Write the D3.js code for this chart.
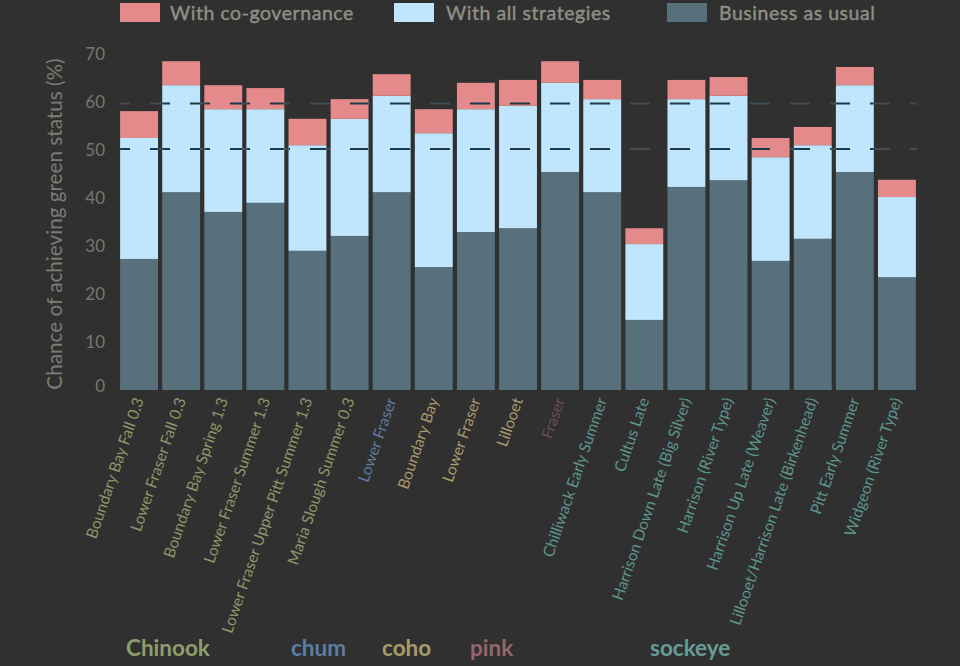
<!DOCTYPE html>
<html>
<head>
<meta charset="utf-8">
<script src="https://cdn.jsdelivr.net/npm/d3@7"></script>
<style>
  html, body { margin: 0; padding: 0; background: #303030; }
  svg { display: block; font-family: Lato, sans-serif; }
</style>
</head>
<body>
<svg id="chart" width="960" height="666"></svg>
<script>
const stocks = ['Boundary Bay Fall 0.3', 'Lower Fraser Fall 0.3', 'Boundary Bay Spring 1.3', 'Lower Fraser Summer 1.3',
  'Lower Fraser Upper Pitt Summer 1.3', 'Maria Slough Summer 0.3', 'Lower Fraser', 'Boundary Bay', 'Lower Fraser',
  'Lillooet', 'Fraser', 'Chilliwack Early Summer', 'Cultus Late', 'Harrison Down Late (Big Silver)', 'Harrison (River Type)',
  'Harrison Up Late (Weaver)', 'Lillooet/Harrison Late (Birkenhead)', 'Pitt Early Summer', 'Widgeon (River Type)'];
const species = ['Chinook', 'Chinook', 'Chinook', 'Chinook', 'Chinook', 'Chinook', 'chum', 'coho', 'coho',
  'coho', 'pink', 'sockeye', 'sockeye', 'sockeye', 'sockeye', 'sockeye', 'sockeye', 'sockeye', 'sockeye'];

// top of each stacked segment, in %
const businessAsUsual = [27.3, 41.2, 37.1, 39, 29, 32.1, 41.2, 25.6, 32.9, 33.7, 45.4, 41.2, 14.6, 42.3, 43.7, 26.9, 31.5, 45.4, 23.5];
const allStrategies = [52.5, 63.5, 58.5, 58.5, 51, 56.5, 61.3, 53.5, 58.5, 59.2, 64, 60.6, 30.4, 60.6, 61.3, 48.5, 51, 63.5, 40.2];
const coGovernance = [58.1, 68.5, 63.5, 62.9, 56.5, 60.6, 65.8, 58.5, 64, 64.6, 68.5, 64.6, 33.7, 64.6, 65.2, 52.5, 54.8, 67.3, 43.8];

const thresholds = [50.2, 59.7];
const yTicks = [0, 10, 20, 30, 40, 50, 60, 70];

const legendNames = ['With co-governance', 'With all strategies', 'Business as usual'];
const legendColors = ['#e58a8a', '#bfe6fc', '#58707c'];
const legendX = [120, 394, 667];

const speciesNames = ['Chinook', 'chum', 'coho', 'pink', 'sockeye'];
const speciesX = [126, 291, 382, 470, 650];
const labelColors = { Chinook: '#8b9768', chum: '#5d7b9c', coho: '#a8996a', pink: '#6e4b50', sockeye: '#5d948e' };
const speciesColors = { Chinook: '#8f9c6c', chum: '#5b7fa2', coho: '#a89a6a', pink: '#96666e', sockeye: '#659c96' };

const svg = d3.select('#chart');

const x = d3.scaleBand().domain(d3.range(stocks.length)).range([118, 918]).paddingInner(0.1).paddingOuter(0.05);
const y = d3.scaleLinear().domain([0, 70]).range([390, 54]);

// faint threshold lines sit under the bars
function drawThresholds(parent, color) {
  parent.selectAll('line').data(thresholds).join('line')
    .attr('x1', 120).attr('x2', 917)
    .attr('y1', d => y(d)).attr('y2', d => y(d))
    .attr('stroke', color).attr('stroke-width', 2)
    .attr('stroke-dasharray', '20 20').attr('stroke-dashoffset', 10);
}
drawThresholds(svg.append('g'), '#3f4d54');

const layers = [
  { top: businessAsUsual, bottom: stocks.map(() => 0), color: legendColors[2] },
  { top: allStrategies, bottom: businessAsUsual, color: legendColors[1] },
  { top: coGovernance, bottom: allStrategies, color: legendColors[0] }
];

layers.forEach(layer => {
  svg.append('g').selectAll('rect').data(d3.range(stocks.length)).join('rect')
    .attr('x', i => x(i)).attr('width', x.bandwidth())
    .attr('y', i => y(layer.top[i]))
    .attr('height', i => y(layer.bottom[i]) - y(layer.top[i]))
    .attr('fill', layer.color);
});

// same lines again, darker where they cross a bar
svg.append('clipPath').attr('id', 'bar-clip')
  .selectAll('rect').data(d3.range(stocks.length)).join('rect')
  .attr('x', i => x(i)).attr('width', x.bandwidth())
  .attr('y', i => y(coGovernance[i]))
  .attr('height', i => y(0) - y(coGovernance[i]));
drawThresholds(svg.append('g').attr('clip-path', 'url(#bar-clip)'), '#1e3a4a');

// y axis
const yAxis = svg.append('g').attr('transform', 'translate(110,0)')
  .call(d3.axisLeft(y).tickValues(yTicks).tickSize(0).tickPadding(5));
yAxis.select('.domain').remove();
yAxis.selectAll('text').attr('fill', '#77776f').style('font-size', '17px').attr('font-family', 'Lato, sans-serif');
yAxis.selectAll('.tick').filter(d => d === 0).select('text').attr('dy', '0.1em');

svg.append('text')
  .attr('transform', 'translate(62,224) rotate(-90)')
  .attr('text-anchor', 'middle')
  .attr('fill', '#7c7c74')
  .style('font-size', '20.7px')
  .text('Chance of achieving green status (%)');

// stock labels
svg.append('g').selectAll('text').data(stocks).join('text')
  .attr('transform', (d, i) => `translate(${x(i) + x.bandwidth() / 2 + 5},400) rotate(-71)`)
  .attr('text-anchor', 'end')
  .attr('fill', (d, i) => labelColors[species[i]])
  .style('font-size', '15.6px')
  .text(d => d);

// legend
svg.append('g').selectAll('rect').data(legendNames).join('rect')
  .attr('x', (d, i) => legendX[i]).attr('y', 3)
  .attr('width', 40).attr('height', 19)
  .attr('fill', (d, i) => legendColors[i]);
svg.append('g').selectAll('text').data(legendNames).join('text')
  .attr('x', (d, i) => legendX[i] + 50 + (i === 0 ? 0 : 2)).attr('y', 19.5)
  .attr('fill', '#8f8f85')
  .attr('stroke', '#8f8f85').attr('stroke-width', 0.4)
  .style('font-size', '19.5px')
  .style('letter-spacing', '0.55px')
  .text(d => d);

// species key along the bottom
svg.append('g').selectAll('text').data(speciesNames).join('text')
  .attr('x', (d, i) => speciesX[i]).attr('y', 656)
  .attr('fill', d => speciesColors[d])
  .style('font-size', '22.5px')
  .style('font-weight', 700)
  .text(d => d);
</script>
</body>
</html>
